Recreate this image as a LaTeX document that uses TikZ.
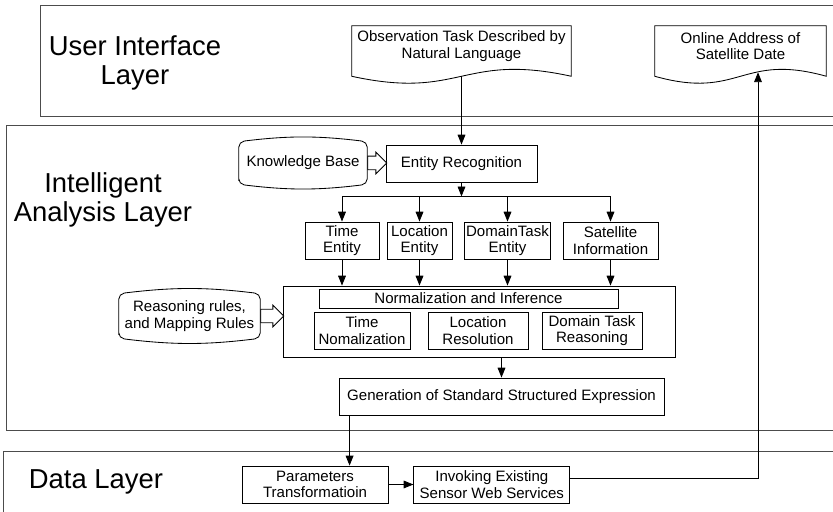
\documentclass[tikz,border=0pt]{standalone}
\usepackage{fontspec}
\setmainfont{Liberation Sans}
\usetikzlibrary{positioning,calc,arrows.meta,shapes.arrows}

\tikzstyle{process} = [rectangle, draw, line width=0.6pt, align=center, minimum height=0.925cm, inner sep=1pt, font=\fontsize{10.7}{11.6}\selectfont]
\tikzstyle{doc} = [rectangle, align=center, minimum height=1cm, inner sep=1pt, font=\fontsize{10.7}{11.6}\selectfont]
\tikzstyle{store} = [rectangle, align=center, inner sep=1pt, font=\fontsize{10.7}{11.6}\selectfont]
\tikzstyle{title} = [align=center, font=\fontsize{19.5}{21}\selectfont]
\tikzstyle{layer} = [draw=black!70, line width=0.7pt]
\tikzstyle{line} = [draw, line width=0.6pt]
\tikzstyle{arrow} = [line width=0.6pt, -{Triangle[length=7pt,width=5.5pt]}, draw]
\tikzstyle{fatarrow} = [single arrow, draw, line width=0.6pt, inner xsep=0pt, inner ysep=0.16cm, single arrow head extend=0.1cm, anchor=tail]

\begin{document}
\begin{tikzpicture}

\useasboundingbox (0,0) rectangle (20.825,12.8);
\clip (0,0) rectangle (20.825,12.8);

% Layers
\draw[layer] (1.0,9.875) rectangle (21.5,12.65);
\draw[layer] (0.15,2.05) rectangle (21.5,9.65);
\draw[layer] (0.075,-0.5) rectangle (21.5,1.525);

\node[title](uititle) at (3.375,11.225) {User Interface\\Layer};
\node[title](iatitle) at (2.575,7.8) {Intelligent\\Analysis Layer};
\node[title](datatitle) at (2.4,0.75) {Data Layer};

% Top
\node[doc, minimum width=5.475cm](obs) at (11.5375,11.65) {Observation Task Described by\\Natural Language};
\node[doc, minimum width=4.275cm](sat) at (18.5125,11.65) {Online Address of\\Satellite Date};
\draw[line] (obs.north west) -- (obs.north east) -- ([yshift=-0.25cm]obs.south east) .. controls +(-2.74,0.6) and +(2.74,-0.6) .. ([yshift=-0.25cm]obs.south west) -- cycle;
\draw[line] (sat.north west) -- (sat.north east) -- ([yshift=-0.25cm]sat.south east) .. controls +(-2.14,0.6) and +(2.14,-0.6) .. ([yshift=-0.25cm]sat.south west) -- cycle;
\coordinate (obstail) at ([yshift=-0.25cm]obs.south);
\coordinate (sattip) at ([xshift=0.4375cm,yshift=-0.15cm]sat.south);

% Analysis
\node[process, minimum width=3.775cm](er) at (11.5375,8.7125) {Entity Recognition};
\node[store, minimum width=3.2cm, minimum height=1.05cm](kb) at (7.575,8.725) {Knowledge Base};
\draw[line, rounded corners=4pt] (kb.south west) -- (kb.north west) to[bend left=7] (kb.north east) -- (kb.south east) to[bend left=7] (kb.south west) -- cycle;
\node[fatarrow, minimum height=0.475cm](kbarrow) at (kb.east) {};

\node[process, minimum width=1.85cm](time) at (8.55,6.7875) {Time\\Entity};
\node[process, minimum width=1.625cm](loc) at (10.4875,6.7875) {Location\\Entity};
\node[process, minimum width=2.025cm](dom) at (12.6875,6.7875) {DomainTask\\Entity};
\node[process, minimum width=2.375cm](satinfo) at (15.2625,6.7875) {Satellite\\Information};

\node[process, minimum width=9.8cm, minimum height=1.775cm](norm) at (11.975,4.7625) {};
\node[process, minimum width=7.475cm, minimum height=0.475cm](normbar) at (11.7125,5.3375) {Normalization and Inference};
\node[process, minimum width=2.4cm](timenorm) at (9.05,4.5375) {Time\\Nomalization};
\node[process, minimum width=2.5cm](locres) at (11.95,4.5375) {Location\\Resolution};
\node[process, minimum width=2.5cm](domreason) at (14.8,4.5375) {Domain Task\\Reasoning};

\node[store, minimum width=3.525cm, minimum height=1.1cm](rr) at (4.7375,4.9) {Reasoning rules,\\and Mapping Rules};
\draw[line, rounded corners=4pt] (rr.south west) -- (rr.north west) to[bend left=7] (rr.north east) -- (rr.south east) to[bend left=7] (rr.south west) -- cycle;
\node[fatarrow, minimum height=0.575cm](rrarrow) at (rr.east) {};

\node[process, minimum width=8.125cm](gen) at (12.5375,2.8875) {Generation of Standard Structured Expression};

% Data
\node[process, minimum width=3.65cm](param) at (7.875,0.6875) {Parameters\\Transformatioin};
\node[process, minimum width=3.9cm, right=0.625cm of param](invoke) {Invoking Existing\\Sensor Web Services};

% Connectors
\coordinate (bus) at ($(er.south)+(0,-0.35)$);
\draw[arrow] (obstail) -- (er.north);
\draw[arrow] (er.south) -- (bus);
\draw[line] (bus -| time.north) -- (bus -| satinfo.north);
\foreach \n in {time,loc,dom,satinfo}
  \draw[arrow] (bus -| \n.north) -- (\n.north);
\foreach \n in {time,loc,dom,satinfo}
  \draw[arrow] (\n.south) -- (\n.south |- norm.north);
\draw[arrow] (gen.north |- norm.south) -- (gen.north);
\coordinate (gentail) at ([xshift=0.275cm]gen.south west);
\draw[arrow] (gentail) -- (gentail |- param.north);
\draw[arrow] (param) -- (invoke);
\draw[arrow] ([yshift=0.16cm]invoke.east) -| (sattip);

\end{tikzpicture}
\end{document}
